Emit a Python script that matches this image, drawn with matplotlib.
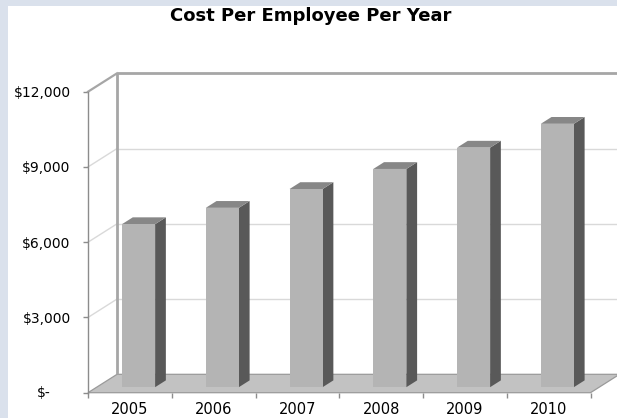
import matplotlib
matplotlib.use("Agg")
import matplotlib.pyplot as plt
from matplotlib.patches import Polygon, Rectangle
from matplotlib.lines import Line2D

plt.rcParams['font.family'] = ['DejaVu Sans']

# ---- data ----
categories = ["2005", "2006", "2007", "2008", "2009", "2010"]
costs = [6500, 7150, 7900, 8700, 9550, 10500]
ytick_values = [0, 3000, 6000, 9000, 12000]
ytick_labels = ["$-", "$3,000", "$6,000", "$9,000", "$12,000"]
title = "Cost Per Employee Per Year"

# ---- style / geometry ----
W, H = 617, 418
band = "#dae1ec"
DX = 0.3465          # depth offset in category units
DY = 733.0           # depth offset in value units
f0 = 0.30            # front of bars (fraction of depth)
dd = 0.37            # bar depth (fraction of depth)
bw = 0.395           # bar width (category units)
c_front = "#b4b4b4"
c_top = "#878787"
c_side = "#595959"
c_floor = "#c2c2c2"
c_frame = "#a6a6a6"
c_grid = "#d9d9d9"
c_axis = "#8c8c8c"

fig = plt.figure(figsize=(W / 100, H / 100), dpi=100, facecolor=band)
fig.patches.append(Rectangle((8 / W, 0), 1, 1 - 6 / H, transform=fig.transFigure,
                             facecolor="white", edgecolor="none", zorder=-10))

left, right = 88 / W, 590.5 / W
bottom, top = 1 - 392.7 / H, 1 - 91.7 / H
ax = fig.add_axes([left, bottom, right - left, top - bottom])
ax.set_zorder(1)
ax.set_facecolor("none")
n = len(categories)
ax.set_xlim(0, n)
ax.set_ylim(0, 12000)
for s in ax.spines.values():
    s.set_visible(False)

ymax = ytick_values[-1]

# floor
floor = Polygon([(0, 0), (n, 0), (n + DX, DY), (DX, DY)], closed=True,
                facecolor=c_floor, edgecolor="#9a9a9a", lw=0.9, clip_on=False, zorder=1)
ax.add_patch(floor)

# back wall gridlines and side wall gridlines
for v in ytick_values[1:-1]:
    ax.add_line(Line2D([DX, n + DX], [DY + v, DY + v], color=c_grid, lw=1.0,
                       clip_on=False, zorder=1))
    ax.add_line(Line2D([0, DX], [v, DY + v], color=c_grid, lw=1.0,
                       clip_on=False, zorder=1))
# frame of walls
ax.add_line(Line2D([DX, n + DX], [DY + ymax, DY + ymax], color=c_frame, lw=2.0,
                   clip_on=False, zorder=2, solid_capstyle="butt"))
ax.add_line(Line2D([DX, DX], [DY, DY + ymax], color=c_frame, lw=2.0,
                   clip_on=False, zorder=2, solid_capstyle="butt"))
ax.add_line(Line2D([0, DX], [ymax, DY + ymax], color=c_frame, lw=1.6,
                   clip_on=False, zorder=2))
# front vertical axis
ax.add_line(Line2D([0, 0], [0, ymax], color=c_axis, lw=1.0, clip_on=False, zorder=2))

# bars
for i, v in enumerate(costs):
    c = i + 0.5 + f0 * DX
    xl, xr = c - bw / 2, c + bw / 2
    y0 = f0 * DY
    yt = y0 + v
    ox, oy = dd * DX, dd * DY
    ax.add_patch(Polygon([(xr, y0), (xr + ox, y0 + oy), (xr + ox, yt + oy), (xr, yt)],
                         closed=True, facecolor=c_side, edgecolor="none",
                         clip_on=False, zorder=3))
    ax.add_patch(Polygon([(xl, yt), (xr, yt), (xr + ox, yt + oy), (xl + ox, yt + oy)],
                         closed=True, facecolor=c_top, edgecolor="none",
                         clip_on=False, zorder=3))
    ax.add_patch(Rectangle((xl, y0), bw, v, facecolor=c_front, edgecolor="none",
                           clip_on=False, zorder=4))

# y ticks
ax.set_yticks(ytick_values)
ax.set_yticklabels([lbl if val != 0 else "" for lbl, val in zip(ytick_labels, ytick_values)])
ax.tick_params(axis="y", length=3.7, width=1, color=c_axis, pad=8.8,
               labelsize=10, labelcolor="black")
ax.annotate(ytick_labels[0], xy=(0, 0), xycoords="data", xytext=(-51, 0),
            textcoords="offset pixels", ha="left", va="center", fontsize=10,
            annotation_clip=False)

# x ticks: marks at boundaries, labels at centers
ax.set_xticks(range(n + 1))
ax.set_xticklabels([""] * (n + 1))
ax.set_xticks([i + 0.5 for i in range(n)], minor=True)
ax.set_xticklabels(categories, minor=True)
ax.tick_params(axis="x", which="major", length=3.4, width=1, color=c_axis)
ax.tick_params(axis="x", which="minor", length=0, pad=6.5, labelsize=10.5)

fig.text(311 / W, 1 - 21 / H, title, ha="center", va="baseline",
         fontsize=13, fontweight="bold")

fig.savefig("out.png", dpi=100, facecolor=band)
